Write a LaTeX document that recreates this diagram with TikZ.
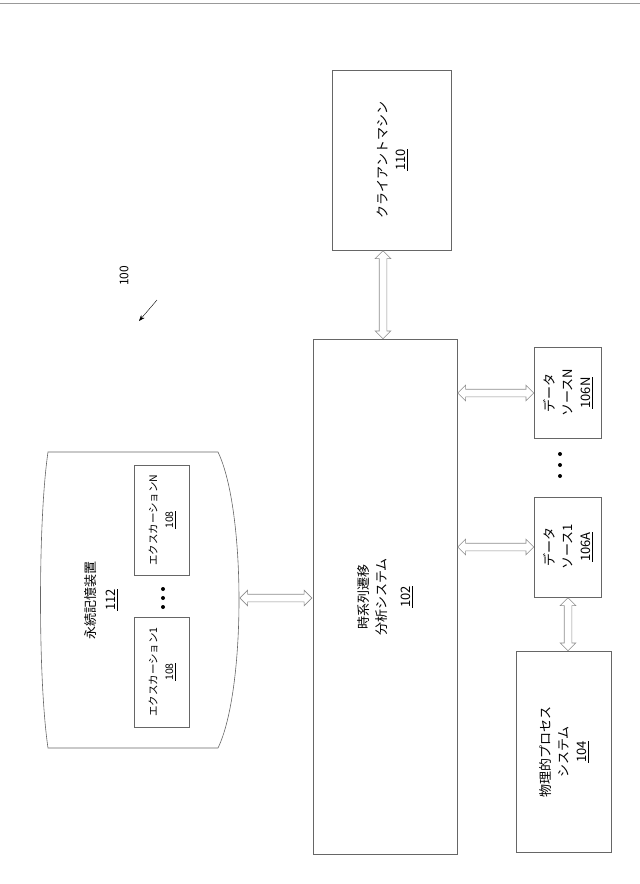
\documentclass[tikz,border=0pt]{standalone}
\usepackage{fontspec}
\setmainfont{Noto Sans CJK JP}
\usetikzlibrary{shapes.arrows,arrows.meta}
\tikzset{
  box/.style={draw=black!60,line width=.6pt,inner sep=0pt},
  txt/.style={rotate=90,align=center,font=\fontsize{13}{18}\selectfont},
  stxt/.style={rotate=90,align=center,font=\fontsize{10.5}{16}\selectfont},
  harrow/.style={double arrow,draw=black!45,fill=white,line width=.6pt,inner xsep=0pt,
    inner ysep=3.5pt,double arrow head extend=4pt,double arrow head indent=0pt,
    sloped,midway},
  dot/.style={circle,fill=black,inner sep=0pt,minimum size=4pt}
}
\begin{document}
\begin{tikzpicture}[x=1pt,y=-1pt]
	\useasboundingbox (0,0) rectangle (640,884);
	\draw[black!40] (0,3) -- (640,3);
	% storage
	\draw[black!60,line width=.6pt] (48,452) .. controls (38,520) and (38,680) .. (48,748)
	 -- (218,748) .. controls (246,690) and (246,510) .. (218,452) -- cycle;
	\coordinate (st) at (239,598);
	\node[txt] (stl) at (101,600) {永続記憶装置\\[2pt]\underline{112}};
	\node[box,minimum width=55,minimum height=110] (exn) at (162,520) {};
	\node[stxt] at (exn) {エクスカーションN\\\underline{108}};
	\node[box,minimum width=55,minimum height=110] (ex1) at (162,672) {};
	\node[stxt] at (ex1) {エクスカーション1\\\underline{108}};
	\foreach \y in {589,598,607}
	\node[dot] at (163,\y) {};
	% main
	\node[box,minimum width=144,minimum height=515] (main) at (385,597) {};
	\node[txt] at (main) {時系列遷移\\分析システム\\[6pt]\underline{102}};
	\node[box,minimum width=119,minimum height=180] (cl) at (392,160) {};
	\node[txt] at (cl) {クライアントマシン\\\underline{110}};
	% data sources
	\node[box,minimum width=67,minimum height=91] (dsn) at (568,393) {};
	\node[txt] at (dsn) {データ\\ソースN\\\underline{106N}};
	\node[box,minimum width=67,minimum height=100] (ds1) at (568,547) {};
	\node[txt] at (ds1) {データ\\ソース1\\\underline{106A}};
	\foreach \y in {454,465,476}
	\node[dot] at (560,\y) {};
	\node[box,minimum width=95,minimum height=201] (ph) at (564,752) {};
	\node[txt] at (ph) {物理的プロセス\\システム\\\underline{104}};
	% arrows
	\path (st) -- (main.west |- st) node[harrow,minimum height=72]{};
	\path (cl.south -| 383,0) -- (main.north -| 383,0) node[harrow,minimum height=88]{};
	\path (main.east |- dsn) -- (dsn.west) node[harrow,minimum height=76]{};
	\path (main.east |- ds1) -- (ds1.west) node[harrow,minimum height=76]{};
	\path (ds1.south) -- (ph.north -| ds1.south) node[harrow,minimum height=53]{};
	% reference
	\node[rotate=90,font=\fontsize{12}{14}\selectfont] (ref) at (124,276) {100};
	\draw[-{Stealth[length=6pt]}] (157,300) -- (139,321);
\end{tikzpicture}
\end{document}
